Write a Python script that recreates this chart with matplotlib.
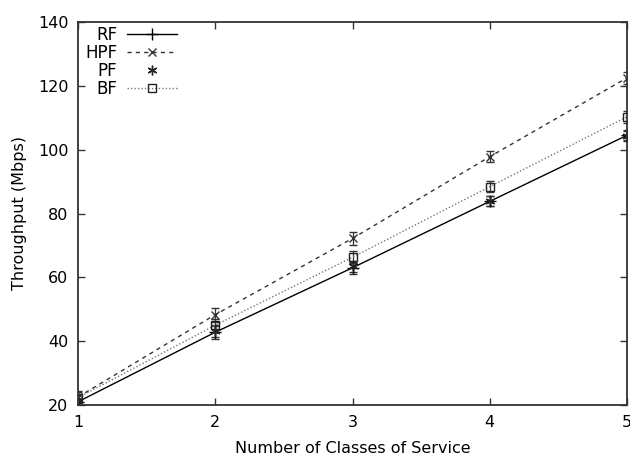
import matplotlib
matplotlib.use("Agg")
import matplotlib.pyplot as plt

classes = [1, 2, 3, 4, 5]
rf = [21.0, 42.8, 63.0, 83.8, 104.5]
hpf = [22.5, 48.3, 72.2, 97.8, 122.5]
pf = [21.5, 43.2, 63.4, 84.0, 104.3]
bf = [22.3, 45.0, 66.3, 88.4, 110.3]
rf_err = [1.8, 2.0, 1.8, 1.6, 1.6]
hpf_err = [2.0, 2.2, 2.0, 1.8, 1.8]
pf_err = [1.8, 2.0, 1.8, 1.6, 1.6]
bf_err = [1.8, 2.0, 1.8, 1.8, 1.8]
labels = ["RF", "HPF", "PF", "BF"]
xticks = [1, 2, 3, 4, 5]
yticks = [20, 40, 60, 80, 100, 120, 140]

plt.rcParams['font.family'] = ['DejaVu Sans']
plt.rcParams['font.size'] = 11.5

fig = plt.figure(figsize=(6.3, 4.58), dpi=100)
ax = fig.add_axes([78/630, 1 - 405/458, (627-78)/630, (405-22)/458])

ekw = dict(capsize=3, elinewidth=0.9, capthick=0.9, ecolor='#333333')
c1 = ax.errorbar(classes, rf, yerr=rf_err, color='black', linestyle='-', linewidth=1.0,
                 marker='+', markersize=8, markeredgewidth=1.0, **ekw)
c2 = ax.errorbar(classes, hpf, yerr=hpf_err, color='#333333', linestyle=(0, (3, 3)), linewidth=1.0,
                 marker='x', markersize=6, markeredgewidth=1.0, **ekw)
c3 = ax.errorbar(classes, pf, yerr=pf_err, color='#222222', linestyle='none',
                 marker=(6, 2, 0), markersize=7, markeredgewidth=1.0, **ekw)
c4 = ax.errorbar(classes, bf, yerr=bf_err, color='#777777', linestyle=(0, (1, 1.5)), linewidth=1.0,
                 marker='s', markersize=6, markerfacecolor='none', markeredgecolor='#222222',
                 markeredgewidth=1.0, **ekw)

ax.set_xlim(1, 5)
ax.set_ylim(20, 140)
ax.set_xticks(xticks)
ax.set_yticks(yticks)
ax.tick_params(direction='in', length=5, width=1.0, top=True, right=True, color='#333333')
ax.tick_params(axis='x', pad=7)
ax.tick_params(axis='y', pad=7)
for s in ax.spines.values():
    s.set_linewidth(1.3)
    s.set_color('#333333')

ax.set_xlabel("Number of Classes of Service", labelpad=8)
ax.set_ylabel("Throughput (Mbps)", labelpad=8)

handles = [c1[0], c2[0], c3[0], c4[0]]
leg = ax.legend(handles, labels, loc='upper left', bbox_to_anchor=(0.005, 1.0), frameon=False,
                markerfirst=False, handlelength=3.0, handletextpad=0.6,
                labelspacing=0.0, borderpad=0.25, borderaxespad=0.0, fontsize=12)

fig.savefig("out.png", dpi=100)
